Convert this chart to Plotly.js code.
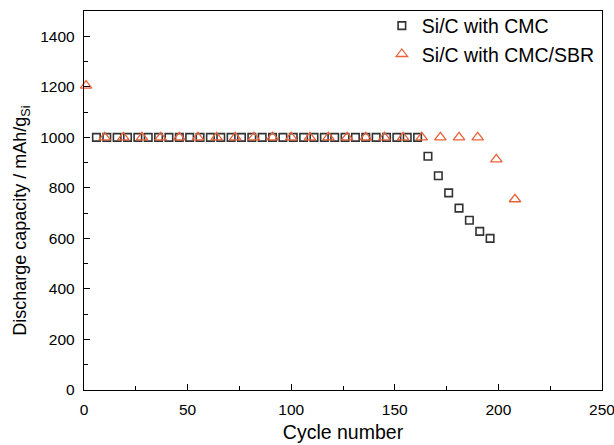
<!DOCTYPE html>
<html>
<head>
<meta charset="utf-8">
<script src="https://cdn.plot.ly/plotly-3.0.1.min.js"></script>
<style>
  html, body { margin: 0; padding: 0; background: #fff; }
  #chart { width: 614px; height: 445px; }
</style>
</head>
<body>
<div id="chart"></div>
<script>
// Discharge capacity of Si/C electrodes with two binder systems
const cmcCycles = [6, 11, 16, 21, 26, 31, 36, 41, 46, 51, 56, 61, 66, 71, 76, 81, 86, 91, 96, 101,
  106, 111, 116, 121, 126, 131, 136, 141, 146, 151, 156, 161, 166, 171, 176, 181, 186, 191, 196];
const cmcCapacity = [1000, 1000, 1000, 1000, 1000, 1000, 1000, 1000, 1000, 1000, 1000, 1000, 1000,
  1000, 1000, 1000, 1000, 1000, 1000, 1000, 1000, 1000, 1000, 1000, 1000, 1000, 1000, 1000, 1000,
  1000, 1000, 1000, 925, 848, 780, 720, 672, 628, 600];

const sbrCycles = [1, 10, 19, 28, 37, 46, 55, 64, 73, 82, 91, 100, 109, 118, 127, 136, 145, 154,
  163, 172, 181, 190, 199, 208];
const sbrCapacity = [1205, 1000, 1000, 1000, 1000, 1000, 1000, 1000, 1000, 1000, 1000, 1000, 1000,
  1000, 1000, 1000, 1000, 1000, 1000, 1000, 1000, 1000, 913, 755];

const seriesNames = ['Si/C with CMC', 'Si/C with CMC/SBR'];
const xTickVals = [0, 50, 100, 150, 200, 250];
const yTickVals = [0, 200, 400, 600, 800, 1000, 1200, 1400];
const yTitle = 'Discharge capacity / mAh/g<sub>Si</sub>';
const xTitle = 'Cycle number';

const font = 'Arial, "Liberation Sans", Helvetica, sans-serif';

const traces = [
  {
    x: cmcCycles, y: cmcCapacity, name: seriesNames[0],
    type: 'scatter', mode: 'markers', cliponaxis: false,
    marker: { symbol: 'square-open', size: 7.5, color: '#333333', line: { width: 1.6, color: '#333333' } }
  },
  {
    x: sbrCycles, y: sbrCapacity, name: seriesNames[1],
    type: 'scatter', mode: 'markers', cliponaxis: false,
    marker: { symbol: 'triangle-up-open', size: 10, color: '#e8623a', line: { width: 1.3, color: '#e8623a' } }
  }
];

const axisCommon = {
  showgrid: false, zeroline: false,
  showline: true, linecolor: '#000', linewidth: 1.2, mirror: true,
  ticks: 'inside', ticklen: 6, tickwidth: 1, tickcolor: '#000',
  ticklabelstandoff: 5, ticklabeloverflow: 'allow',
  tickfont: { family: font, size: 15.5, color: '#000' }
};

const layout = {
  width: 614, height: 445,
  margin: { l: 84, r: 12, t: 11, b: 55, autoexpand: false },
  paper_bgcolor: '#fff', plot_bgcolor: '#fff',
  font: { family: font, color: '#000' },
  showlegend: true,
  legend: {
    x: 0.575, y: 1.012, xanchor: 'left', yanchor: 'top',
    bgcolor: 'rgba(0,0,0,0)', borderwidth: 0,
    font: { family: font, size: 19.5, color: '#000' }
  },
  xaxis: Object.assign({}, axisCommon, {
    range: [0, 250], tickvals: xTickVals,
    minor: { dtick: 25, ticks: 'inside', ticklen: 4, tickcolor: '#000' },
    title: { text: xTitle, font: { family: font, size: 19.5, color: '#000' }, standoff: 8 }
  }),
  yaxis: Object.assign({}, axisCommon, {
    range: [0, 1500], tickvals: yTickVals,
    minor: { dtick: 100, ticks: 'inside', ticklen: 4, tickcolor: '#000' }
  }),
  // y-axis title placed as a rotated annotation, sitting a little below the plot's mid-height
  annotations: [{
    text: yTitle, textangle: -90, showarrow: false,
    xref: 'paper', yref: 'paper', x: -0.12, y: 0.446,
    xanchor: 'center', yanchor: 'middle',
    font: { family: font, size: 18, color: '#000' }
  }]
};

Plotly.newPlot('chart', traces, layout, { displayModeBar: false, staticPlot: true });
</script>
</body>
</html>
